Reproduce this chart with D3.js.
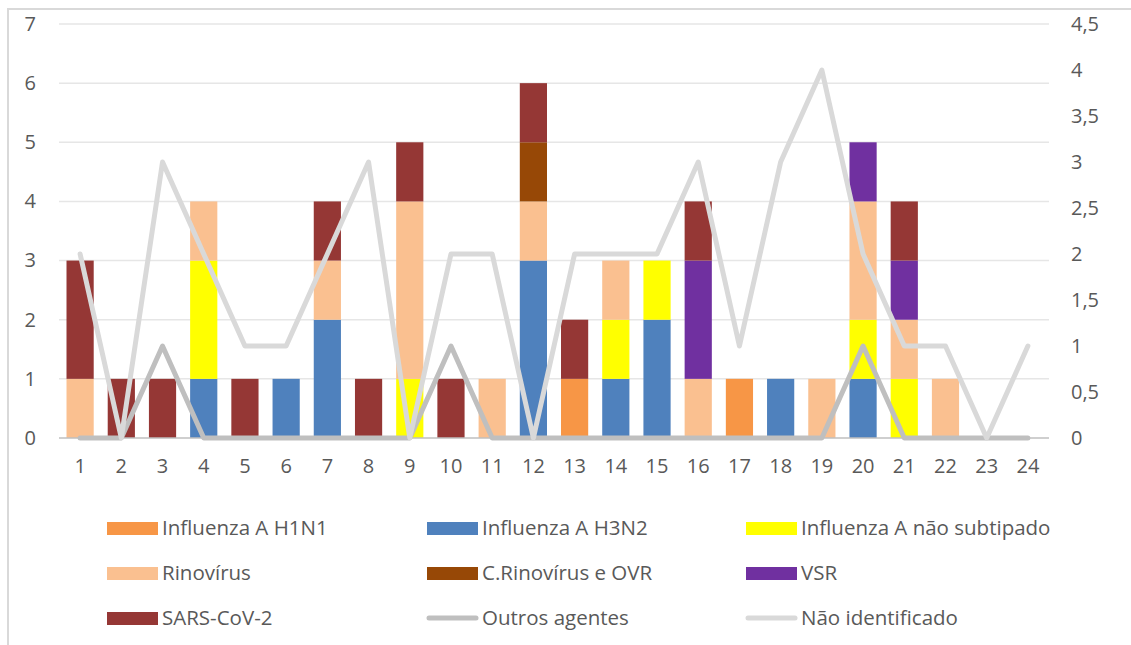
<!DOCTYPE html>
<html><head><meta charset="utf-8">
<script src="https://cdn.jsdelivr.net/npm/d3@7"></script>
<style>body{margin:0;background:#fff}svg{display:block}text{font-family:"Open Sans",sans-serif;fill:#595959}</style>
</head><body><svg id="c" width="1131" height="645"></svg>
<script>
const categories = d3.range(1,25).map(String);
const seriesNames = ["Influenza A H1N1","Influenza A H3N2","Influenza A não subtipado","Rinovírus","C.Rinovírus e OVR","VSR","SARS-CoV-2"];
const h1n1      = [0,0,0,0,0,0,0,0,0,0,0,0,1,0,0,0,1,0,0,0,0,0,0,0];
const h3n2      = [0,0,0,1,0,1,2,0,0,0,0,3,0,1,2,0,0,1,0,1,0,0,0,0];
const naoSub    = [0,0,0,2,0,0,0,0,1,0,0,0,0,1,1,0,0,0,0,1,1,0,0,0];
const rino      = [1,0,0,1,0,0,1,0,3,0,1,1,0,1,0,1,0,0,1,2,1,1,0,0];
const cRino     = [0,0,0,0,0,0,0,0,0,0,0,1,0,0,0,0,0,0,0,0,0,0,0,0];
const vsr       = [0,0,0,0,0,0,0,0,0,0,0,0,0,0,0,2,0,0,0,1,1,0,0,0];
const sars      = [2,1,1,0,1,0,1,1,1,1,0,1,1,0,0,1,0,0,0,0,1,0,0,0];
const outros    = [0,0,1,0,0,0,0,0,0,1,0,0,0,0,0,0,0,0,0,1,0,0,0,0];
const naoIdent  = [2,0,3,2,1,1,2,3,0,2,2,0,2,2,2,3,1,3,4,2,1,1,0,1];
const leftTicks = [0,1,2,3,4,5,6,7];
const rightTicks = [0,0.5,1,1.5,2,2.5,3,3.5,4,4.5];
const colors = ["#f79646","#4f81bd","#ffff00","#fac090","#974806","#7030a0","#953735"];

const svg = d3.select("#c");
// chart border
svg.append("path").attr("d","M8,645 V9 H1131").attr("fill","none").attr("stroke","#d9d9d9").attr("stroke-width",2);

const x = d3.scaleBand().domain(categories).range([59.5,1048.5]).paddingInner(0.34).paddingOuter(0.17);
const yL = d3.scaleLinear().domain([0,7]).range([438,24]);
const yR = d3.scaleLinear().domain([0,4.5]).range([438,24]);

// gridlines
svg.append("g").selectAll("line").data(leftTicks.slice(1)).join("line")
  .attr("x1",59).attr("x2",1049).attr("y1",d=>yL(d)).attr("y2",d=>yL(d))
  .attr("stroke","#e6e6e6").attr("stroke-width",1.5);

// stacked bars
const allSeries = [h1n1,h3n2,naoSub,rino,cRino,vsr,sars];
const table = categories.map((c,i)=>{const o={cat:c}; seriesNames.forEach((n,j)=>o[n]=allSeries[j][i]); return o;});
const stack = d3.stack().keys(seriesNames)(table);
svg.append("g").selectAll("g").data(stack).join("g").attr("fill",(d,i)=>colors[i])
  .selectAll("rect").data(d=>d.filter(v=>v[1]>v[0])).join("rect")
  .attr("x",d=>x(d.data.cat)).attr("width",x.bandwidth())
  .attr("y",d=>yL(d[1])).attr("height",d=>yL(d[0])-yL(d[1]));

// axis baseline
svg.append("line").attr("x1",59).attr("x2",1049).attr("y1",438).attr("y2",438).attr("stroke","#bfbfbf").attr("stroke-width",1.5);

// lines
const cx = c=>x(c)+x.bandwidth()/2;
const line = d3.line().x((d,i)=>cx(categories[i])).y(d=>yR(d));
svg.append("path").datum(outros).attr("d",line).attr("fill","none").attr("stroke","#bfbfbf").attr("stroke-width",5).attr("stroke-linejoin","round").attr("stroke-linecap","round");
svg.append("path").datum(naoIdent).attr("d",line).attr("fill","none").attr("stroke","#d9d9d9").attr("stroke-width",5).attr("stroke-linejoin","round").attr("stroke-linecap","round");

// axes labels
const fs = 20;
const gL = svg.append("g").call(d3.axisLeft(yL).tickValues(leftTicks).tickSize(0).tickPadding(0).tickFormat(d3.format("d")));
gL.attr("transform","translate(36,0)"); gL.select(".domain").remove();
gL.selectAll("text").attr("font-size",fs).style("font-family","'Open Sans',sans-serif").attr("fill","#595959");
const fmtR = d=>String(d).replace(".",",");
const gR = svg.append("g").call(d3.axisRight(yR).tickValues(rightTicks).tickSize(0).tickPadding(0).tickFormat(fmtR));
gR.attr("transform","translate(1071,0)"); gR.select(".domain").remove();
gR.selectAll("text").attr("font-size",fs).style("font-family","'Open Sans',sans-serif").attr("fill","#595959");
const gX = svg.append("g").call(d3.axisBottom(x).tickSize(0).tickPadding(0));
gX.attr("transform","translate(0,459)"); gX.select(".domain").remove();
gX.selectAll("text").attr("font-size",fs).attr("dy","0.71em").style("font-family","'Open Sans',sans-serif").attr("fill","#595959");

// legend
const legendItems = seriesNames.map((n,i)=>({name:n,type:"rect",color:colors[i]}))
  .concat([{name:"Outros agentes",type:"line",color:"#bfbfbf"},{name:"Não identificado",type:"line",color:"#d9d9d9"}]);
const colX = [107,427,746], rowY = [528,573,618];
const lg = svg.append("g").selectAll("g").data(legendItems).join("g")
  .attr("transform",(d,i)=>`translate(${colX[i%3]},${rowY[Math.floor(i/3)]})`);
lg.filter(d=>d.type==="rect").append("rect").attr("x",0).attr("y",-6).attr("width",51).attr("height",13).attr("fill",d=>d.color);
lg.filter(d=>d.type==="line").append("line").attr("x1",2).attr("x2",49).attr("y1",0).attr("y2",0).attr("stroke",d=>d.color).attr("stroke-width",5).attr("stroke-linecap","round");
lg.append("text").attr("x",55).attr("y",0).attr("dy","0.35em").attr("font-size",20.5).text(d=>d.name);
</script></body></html>
